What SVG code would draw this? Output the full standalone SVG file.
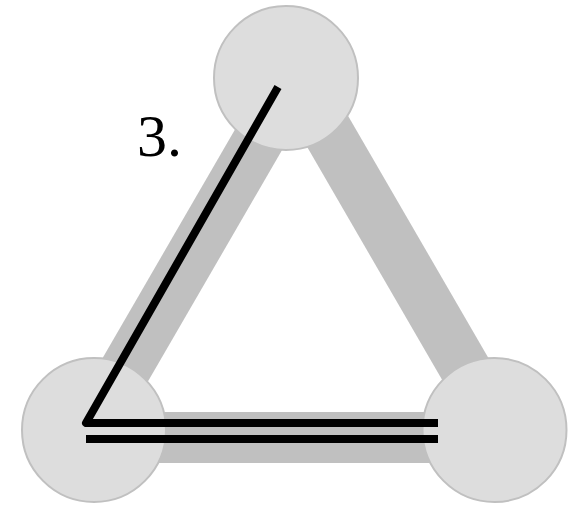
<svg xmlns="http://www.w3.org/2000/svg" width="574" height="506" viewBox="0 0 574 506">
<style>
.edge{stroke:#c0c0c0;stroke-width:51;fill:none;stroke-linecap:butt}
.node{fill:#dddddd;stroke:#c0c0c0;stroke-width:2}
.ink{stroke:#000;stroke-width:8;fill:none;stroke-linejoin:round;stroke-linecap:butt}
.lbl{font-family:"Liberation Serif","Times New Roman",serif;font-size:60px;fill:#000}
</style>
<rect width="574" height="506" fill="#fff"/>
<g id="connectors">
<line class="edge" x1="86" y1="437.5" x2="505" y2="437.5"/>
<line class="edge" x1="86" y1="437.5" x2="295.5" y2="76"/>
<line class="edge" x1="295.5" y1="76" x2="505" y2="437.5"/>
</g>
<g id="node-top"><circle class="node" cx="286" cy="78" r="72"/></g>
<g id="node-left"><circle class="node" cx="94" cy="430" r="72"/></g>
<g id="node-right"><circle class="node" cx="494.5" cy="430" r="72"/></g>
<g id="path">
<polyline class="ink" points="278,87 86,423 438,423"/>
<line class="ink" x1="86" y1="439" x2="438" y2="439"/>
</g>
<text class="lbl" x="137" y="156">3.</text>
</svg>
